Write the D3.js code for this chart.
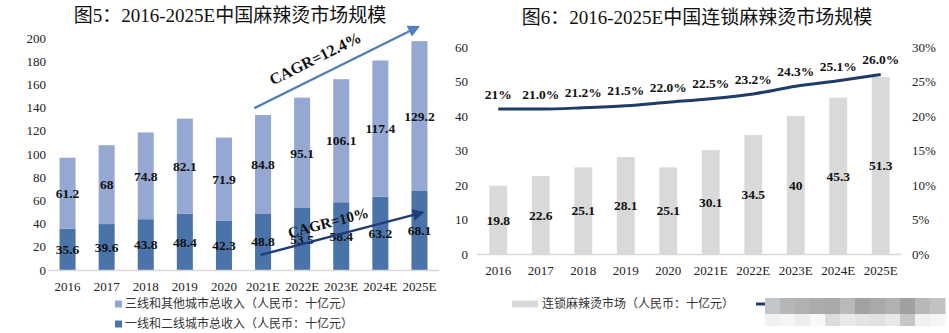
<!DOCTYPE html>
<html>
<head>
<meta charset="utf-8">
<script src="https://cdn.jsdelivr.net/npm/d3@7"></script>
<style>
  html, body { margin: 0; padding: 0; background: #fff; }
  svg { display: block; }
</style>
</head>
<body>
<svg id="chart" width="949" height="333"></svg>
<script>
// Figure 5: hotpot market split by city tier
const years = ['2016', '2017', '2018', '2019', '2020', '2021E', '2022E', '2023E', '2024E', '2025E'];
const tier12 = [35.6, 39.6, 43.8, 48.4, 42.3, 48.8, 53.5, 58.4, 63.2, 68.1];
const tier3plus = [61.2, 68, 74.8, 82.1, 71.9, 84.8, 95.1, 106.1, 117.4, 129.2];
const leftTicks = [0, 20, 40, 60, 80, 100, 120, 140, 160, 180, 200];

// Figure 6: chain segment and its share
const chainSize = [19.8, 22.6, 25.1, 28.1, 25.1, 30.1, 34.5, 40, 45.3, 51.3];
const chainShare = [0.21, 0.21, 0.212, 0.215, 0.22, 0.225, 0.232, 0.243, 0.251, 0.26];
const shareLabels = ['21%', '21.0%', '21.2%', '21.5%', '22.0%', '22.5%', '23.2%', '24.3%', '25.1%', '26.0%'];
const sizeTicks = [0, 10, 20, 30, 40, 50, 60];
const shareTicks = [0, 0.05, 0.10, 0.15, 0.20, 0.25, 0.30];

const SERIF = '"Liberation Serif", "Times New Roman", "Noto Sans CJK SC", serif';
const CJK = '"Noto Sans CJK SC", "Liberation Serif", sans-serif';

const svg = d3.select('#chart');

// ---------- left chart ----------
const c1 = svg.append('g');
const x1 = d3.scaleBand().domain(years).range([48, 439]).paddingInner(0.59).paddingOuter(0.295);
const y1 = d3.scaleLinear().domain([0, 200]).range([270, 38]);

c1.append('text')
  .attr('x', 230).attr('y', 22)
  .attr('text-anchor', 'middle')
  .style('font-family', SERIF).style('font-size', '19px').attr('fill', '#111')
  .text('图5：2016-2025E中国麻辣烫市场规模');

c1.append('g').selectAll('text').data(leftTicks).join('text')
  .attr('x', 46).attr('y', d => y1(d)).attr('dy', '0.35em')
  .attr('text-anchor', 'end')
  .style('font-family', SERIF).style('font-size', '13px').attr('fill', '#222')
  .text(d => d);

const stack1 = years.map((yr, i) => ({ yr, a: tier12[i], b: tier3plus[i] }));

c1.append('g').selectAll('rect.low').data(stack1).join('rect')
  .attr('x', d => x1(d.yr)).attr('width', x1.bandwidth())
  .attr('y', d => y1(d.a)).attr('height', d => y1(0) - y1(d.a))
  .attr('fill', '#4a74a9');

c1.append('g').selectAll('rect.high').data(stack1).join('rect')
  .attr('x', d => x1(d.yr)).attr('width', x1.bandwidth())
  .attr('y', d => y1(d.a + d.b)).attr('height', d => y1(d.a) - y1(d.a + d.b))
  .attr('fill', '#94a8d2');

c1.append('line')
  .attr('x1', 48).attr('x2', 439).attr('y1', y1(0) + 0.5).attr('y2', y1(0) + 0.5)
  .attr('stroke', '#d9d9d9').attr('stroke-width', 1.5);

const lbl = (g, data, xs, ys, txt) => g.append('g').selectAll('text').data(data).join('text')
  .attr('x', xs).attr('y', ys).attr('dy', '0.35em')
  .attr('text-anchor', 'middle')
  .style('font-family', SERIF).style('font-size', '13.5px').style('font-weight', 'bold')
  .attr('fill', '#111')
  .text(txt);

lbl(c1, stack1, d => x1(d.yr) + x1.bandwidth() / 2, d => y1(d.a / 2), d => d.a);
lbl(c1, stack1, d => x1(d.yr) + x1.bandwidth() / 2, d => y1(d.a + d.b / 2), d => d.b);

c1.append('g').selectAll('text').data(years).join('text')
  .attr('x', d => x1(d) + x1.bandwidth() / 2).attr('y', 286).attr('dy', '0.35em')
  .attr('text-anchor', 'middle')
  .style('font-family', SERIF).style('font-size', '13px').attr('fill', '#222')
  .text(d => d);

// legend
const legend1 = [
  { name: '三线和其他城市总收入（人民币：十亿元）', color: '#94a8d2' },
  { name: '一线和二线城市总收入（人民币：十亿元）', color: '#4a74a9' }
];
const lg1 = c1.append('g').selectAll('g').data(legend1).join('g')
  .attr('transform', (d, i) => `translate(115, ${304 + i * 20})`);
lg1.append('rect').attr('x', 0).attr('y', -3.5).attr('width', 7).attr('height', 7).attr('fill', d => d.color);
lg1.append('text').attr('x', 10).attr('dy', '0.35em')
  .style('font-family', CJK).style('font-size', '12px').attr('fill', '#333')
  .text(d => d.name);

// growth arrows
const defs = svg.append('defs');
const cagr = [
  { id: 'a1', text: 'CAGR=12.4%', color: '#4f7fbe', size: 16, from: ['2021E', -0.05, 139.5], to: ['2025E', 0.4, 209.5], t: 0.42, off: 12 },
  { id: 'a2', text: 'CAGR=10%', color: '#1f3d7a', size: 15, from: ['2021E', 0.35, 13], to: ['2025E', 0.68, 49.5], t: 0.44, off: 9 }
];
cagr.forEach(c => {
  defs.append('marker').attr('id', c.id)
    .attr('viewBox', '0 0 10 10').attr('refX', 8).attr('refY', 5)
    .attr('markerWidth', 5).attr('markerHeight', 5).attr('orient', 'auto')
    .attr('markerUnits', 'strokeWidth')
    .append('path').attr('d', 'M0,0 L10,5 L0,10 Z').attr('fill', c.color);
  const xa = x1(c.from[0]) + c.from[1] * x1.bandwidth(), ya = y1(c.from[2]);
  const xb = x1(c.to[0]) + c.to[1] * x1.bandwidth(), yb = y1(c.to[2]);
  c1.append('line')
    .attr('x1', xa).attr('y1', ya).attr('x2', xb).attr('y2', yb)
    .attr('stroke', c.color).attr('stroke-width', 2.4)
    .attr('marker-end', `url(#${c.id})`);
  const ang = Math.atan2(yb - ya, xb - xa);
  const px = xa + (xb - xa) * c.t + Math.sin(ang) * c.off;
  const py = ya + (yb - ya) * c.t - Math.cos(ang) * c.off;
  c1.append('text')
    .attr('transform', `translate(${px},${py}) rotate(${ang * 180 / Math.PI})`)
    .attr('text-anchor', 'middle')
    .style('font-family', SERIF).style('font-size', c.size + 'px').style('font-weight', 'bold')
    .attr('fill', '#111')
    .text(c.text);
});

// ---------- right chart ----------
const c2 = svg.append('g');
const x2 = d3.scaleBand().domain(years).range([477, 902]).paddingInner(0.58).paddingOuter(0.29);
const y2 = d3.scaleLinear().domain([0, 60]).range([254, 47]);
const y3 = d3.scaleLinear().domain([0, 0.30]).range([254, 47]);

c2.append('text')
  .attr('x', 697).attr('y', 24)
  .attr('text-anchor', 'middle')
  .style('font-family', SERIF).style('font-size', '19px').attr('fill', '#111')
  .text('图6：2016-2025E中国连锁麻辣烫市场规模');

c2.append('g').selectAll('text').data(sizeTicks).join('text')
  .attr('x', 468).attr('y', d => y2(d)).attr('dy', '0.35em')
  .attr('text-anchor', 'end')
  .style('font-family', SERIF).style('font-size', '13px').attr('fill', '#222')
  .text(d => d);

c2.append('g').selectAll('text').data(shareTicks).join('text')
  .attr('x', 912).attr('y', d => y3(d)).attr('dy', '0.35em')
  .attr('text-anchor', 'start')
  .style('font-family', SERIF).style('font-size', '13px').attr('fill', '#222')
  .text(d3.format('.0%'));

const rows2 = years.map((yr, i) => ({ yr, v: chainSize[i], s: chainShare[i], l: shareLabels[i] }));

c2.append('g').selectAll('rect').data(rows2).join('rect')
  .attr('x', d => x2(d.yr)).attr('width', x2.bandwidth())
  .attr('y', d => y2(d.v)).attr('height', d => y2(0) - y2(d.v))
  .attr('fill', '#d9d9d9');

c2.append('line')
  .attr('x1', 477).attr('x2', 902).attr('y1', y2(0) + 0.5).attr('y2', y2(0) + 0.5)
  .attr('stroke', '#d9d9d9').attr('stroke-width', 1.5);

lbl(c2, rows2, d => x2(d.yr) + x2.bandwidth() / 2, d => y2(d.v / 2), d => d.v);

const shareLine = d3.line()
  .x(d => x2(d.yr) + x2.bandwidth() / 2)
  .y(d => y3(d.s))
  .curve(d3.curveMonotoneX);

c2.append('path').datum(rows2)
  .attr('d', shareLine)
  .attr('fill', 'none').attr('stroke', '#1f3b67').attr('stroke-width', 3);

c2.append('g').selectAll('text').data(rows2).join('text')
  .attr('x', d => x2(d.yr) + x2.bandwidth() / 2).attr('y', d => y3(d.s) - 15).attr('dy', '0.35em')
  .attr('text-anchor', 'middle')
  .style('font-family', SERIF).style('font-size', '13.5px').style('font-weight', 'bold')
  .attr('fill', '#111')
  .text(d => d.l);

c2.append('g').selectAll('text').data(years).join('text')
  .attr('x', d => x2(d) + x2.bandwidth() / 2).attr('y', 270).attr('dy', '0.35em')
  .attr('text-anchor', 'middle')
  .style('font-family', SERIF).style('font-size', '13px').attr('fill', '#222')
  .text(d => d);

// legend
c2.append('rect').attr('x', 512).attr('y', 300.5).attr('width', 26).attr('height', 7).attr('fill', '#d9d9d9');
c2.append('text').attr('x', 542).attr('y', 304).attr('dy', '0.35em')
  .style('font-family', CJK).style('font-size', '12px').attr('fill', '#333')
  .text('连锁麻辣烫市场（人民币：十亿元）');
c2.append('line').attr('x1', 756).attr('x2', 766).attr('y1', 304).attr('y2', 304)
  .attr('stroke', '#1f3b67').attr('stroke-width', 3);

// pixelated patch over the rest of the legend
const patchTop = ['#c3c7cb', '#b6b6b6', '#b1b1b1', '#ababab', '#a9a9a9', '#b9b9b9', '#a1a1a1', '#a9a9a9', '#b1b1b1', '#a0a0a0', '#b8b8b8', '#c2c2c2'];
const patchBottom = ['#f1f1f1', '#f5f5f5', '#ededed', '#f8f8f8', '#dcdcdc', '#e9e9e9', '#e4e4e4', '#e1e1e1', '#e8e8e8', '#c6c6c6', '#f1f1f1', '#f5f5f5'];
const patch = c2.append('g').attr('transform', 'translate(765, 298)');
patch.selectAll('rect.t').data(patchTop).join('rect')
  .attr('x', (d, i) => i * 15).attr('y', 0).attr('width', 15.5).attr('height', 16).attr('fill', d => d);
patch.selectAll('rect.b').data(patchBottom).join('rect')
  .attr('x', (d, i) => i * 15).attr('y', 16).attr('width', 15.5).attr('height', 12).attr('fill', d => d);
</script>
</body>
</html>
